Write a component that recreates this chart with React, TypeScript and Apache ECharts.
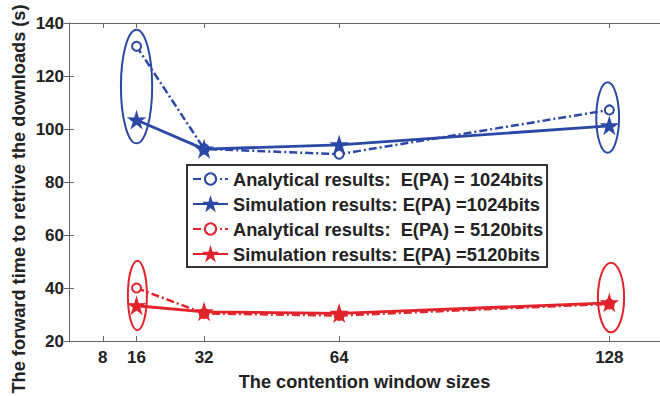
import React, { useEffect, useRef } from "react";
import * as echarts from "echarts";

const xTicks = [8, 16, 32, 64, 128];
const windowSizes = [16, 32, 64, 128];
const analytical1024 = [131.2, 92.5, 90.5, 107.2];
const simulation1024 = [103.4, 92.4, 94.0, 101.2];
const analytical5120 = [40.0, 30.4, 29.6, 34.0];
const simulation5120 = [33.3, 31.0, 30.4, 34.4];
// ellipse annotations: [x, half width (x units), y low, y high]
const blueEllipses = [
  [16, 3.7, 94.6, 137.5],
  [127.6, 2.7, 91.0, 117.6],
];
const redEllipses = [
  [16.2, 2.25, 24.1, 50.3],
  [128.4, 3.1, 23.3, 49.5],
];
const seriesNames = [
  "Analytical results:  E(PA) = 1024bits",
  "Simulation results: E(PA) =1024bits",
  "Analytical results:  E(PA) = 5120bits",
  "Simulation results: E(PA) =5120bits",
];
const xTitle = "The contention window sizes";
const yTitle = "The forward time to retrive the downloads (s)";

const BLUE = "#2c48a6";
const RED = "#e2232b";
const FONT = "'Liberation Sans', Arial, sans-serif";
const STAR =
  "path://M0,-10 L2.2,-3.0 L9.5,-3.1 L3.6,1.2 L5.9,8.1 L0,3.8 L-5.9,8.1 L-3.6,1.2 L-9.5,-3.1 L-2.2,-3.0 Z";

function pairs(ys: number[]) {
  return windowSizes.map((x, i) => [x, ys[i]]);
}

function ellipseSeries(data: number[][], color: string) {
  return {
    type: "custom",
    silent: true,
    clip: false,
    z: 1,
    data,
    renderItem: (_p: any, api: any) => {
      const x = api.value(0);
      const hx = api.value(1);
      const y0 = api.value(2);
      const y1 = api.value(3);
      const c = api.coord([x, (y0 + y1) / 2]);
      const a = api.coord([x - hx, y0]);
      const b = api.coord([x + hx, y1]);
      return {
        type: "ellipse",
        shape: {
          cx: c[0],
          cy: c[1],
          rx: Math.abs(b[0] - a[0]) / 2,
          ry: Math.abs(b[1] - a[1]) / 2,
        },
        style: { fill: "none", stroke: color, lineWidth: 2 },
      };
    },
  };
}

export default function App() {
  const ref = useRef<HTMLDivElement>(null);
  useEffect(() => {
    document.body.style.margin = "0";
    const chart = echarts.init(ref.current!, undefined, { renderer: "svg" });
    const axisLine = { show: true, lineStyle: { color: "#666", width: 1 } };
    const tickStyle = { inside: true, length: 5, lineStyle: { color: "#666" } };
    const lineSeries = (name: string, ys: number[], color: string, analytical: boolean) => ({
      name,
      type: "line",
      data: pairs(ys),
      z: analytical ? 3 : 4,
      symbol: analytical ? "emptyCircle" : STAR,
      symbolSize: analytical ? 9 : 13,
      showSymbol: true,
      itemStyle: { color, borderColor: color, borderWidth: 2.2 },
      lineStyle: {
        color,
        width: analytical ? 2.5 : 2.8,
        type: analytical ? [8, 3, 2, 3] : "solid",
      },
    });
    chart.setOption({
      animation: false,
      backgroundColor: "#fff",
      grid: { left: 69, top: 23, width: 592, height: 325 },
      graphic: [
        {
          type: "text",
          x: 19,
          y: 199,
          rotation: Math.PI / 2,
          style: {
            text: yTitle,
            fill: "#222",
            fontWeight: "bold",
            fontSize: 18.2,
            fontFamily: FONT,
            align: "center",
            verticalAlign: "middle",
          },
        },
      ],
      xAxis: [
        {
          type: "value",
          min: 0,
          max: 140,
          axisLine,
          splitLine: { show: false },
          axisTick: { ...tickStyle, customValues: xTicks },
          axisLabel: {
            customValues: xTicks,
            color: "#222",
            fontWeight: "bold",
            fontSize: 17,
            fontFamily: FONT,
            margin: 8,
          },
          name: xTitle,
          nameLocation: "middle",
          nameGap: 32,
          nameTextStyle: { color: "#222", fontWeight: "bold", fontSize: 18.2, fontFamily: FONT },
        },
        {
          type: "value",
          position: "top",
          min: 0,
          max: 140,
          axisLine,
          splitLine: { show: false },
          axisTick: { ...tickStyle, customValues: xTicks },
          axisLabel: { show: false },
        },
      ],
      yAxis: [
        {
          type: "value",
          min: 20,
          max: 140,
          interval: 20,
          axisLine,
          splitLine: { show: false },
          axisTick: tickStyle,
          axisLabel: {
            color: "#222",
            fontWeight: "bold",
            fontSize: 17,
            fontFamily: FONT,
            margin: 5,
          },
        },
        {
          type: "value",
          position: "right",
          min: 20,
          max: 140,
          interval: 20,
          axisLine,
          splitLine: { show: false },
          axisTick: tickStyle,
          axisLabel: { show: false },
        },
      ],
      legend: {
        data: seriesNames,
        orient: "vertical",
        left: 187,
        top: 165,
        itemWidth: 35,
        itemHeight: 14,
        itemGap: 5,
        padding: [4, 4, 3, 5],
        backgroundColor: "#fff",
        borderColor: "#333",
        borderWidth: 2,
        textStyle: {
          color: "#222",
          fontWeight: "bold",
          fontSize: 18.3,
          lineHeight: 20,
          fontFamily: FONT,
        },
      },
      series: [
        ellipseSeries(blueEllipses, BLUE),
        ellipseSeries(redEllipses, RED),
        lineSeries(seriesNames[0], analytical1024, BLUE, true),
        lineSeries(seriesNames[1], simulation1024, BLUE, false),
        lineSeries(seriesNames[2], analytical5120, RED, true),
        lineSeries(seriesNames[3], simulation5120, RED, false),
      ],
    });
    return () => chart.dispose();
  }, []);
  return <div ref={ref} style={{ width: 660, height: 396 }} />;
}
